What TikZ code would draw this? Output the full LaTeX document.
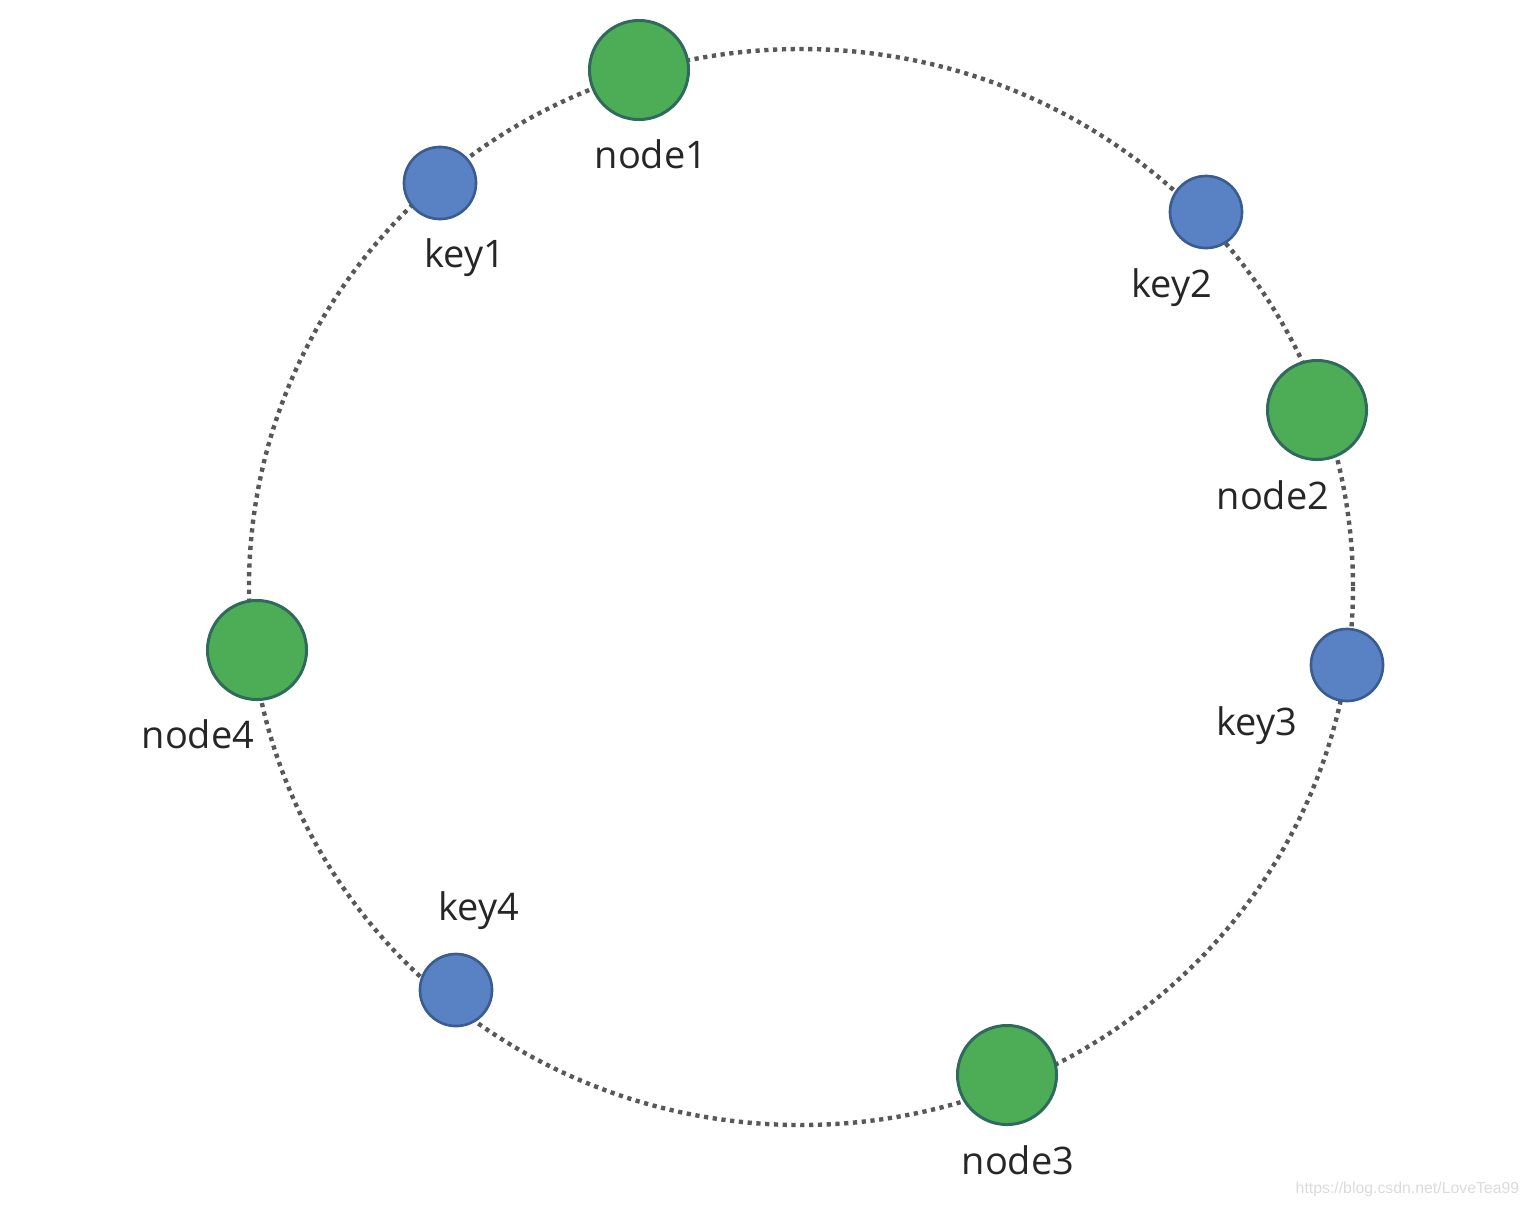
\documentclass[tikz,border=0pt]{standalone}
\usepackage{fontspec}
\setmainfont{Open Sans}
\newfontfamily\markfont{Liberation Sans}
\usetikzlibrary{positioning}
\definecolor{servergreen}{HTML}{4DAD56}
\definecolor{serveredge}{HTML}{2F6A5C}
\definecolor{keyblue}{HTML}{5882C3}
\definecolor{keyedge}{HTML}{3A5C90}
\definecolor{ringgray}{HTML}{585858}

\begin{document}
\begin{tikzpicture}[
x=0.01cm, y=-0.01cm,
font=\fontsize{10.8pt}{13pt}\selectfont,
server/.style={circle,draw=serveredge,line width=0.85pt,fill=servergreen,minimum size=0.99cm,inner sep=0pt},
keynode/.style={circle,draw=keyedge,line width=0.75pt,fill=keyblue,minimum size=0.72cm,inner sep=0pt},
ring/.style={draw=ringgray,line width=1.25pt,dash pattern=on 1.2pt off 1.3pt},
lbl/.style={anchor=base,text=black!85}
]
    % Page
    \useasboundingbox (0,0) rectangle (1530,1208);

    % Draw ring
    \coordinate (centre) at (801,587);
    \draw[ring] (centre) ellipse [x radius=552, y radius=538];

    % Servers and keys
    \node[server] (node1) at (639,70) {};
    \node[server] (node2) at (1317,410) {};
    \node[server] (node3) at (1007,1075) {};
    \node[server] (node4) at (257,650) {};

    \node[keynode] (key1) at (440,183) {};
    \node[keynode] (key2) at (1206,212) {};
    \node[keynode] (key3) at (1347,665) {};
    \node[keynode] (key4) at (456,990) {};

    % Labels
    \node[lbl] (node1 label) at (651,168) {node1};
    \node[lbl] (node2 label) at (1273,509) {node2};
    \node[lbl] (node3 label) at (1018,1174) {node3};
    \node[lbl] (node4 label) at (198,748) {node4};

    \node[lbl] (key1 label) at (465,267) {key1};
    \node[lbl] (key2 label) at (1172,297) {key2};
    \node[lbl] (key3 label) at (1257,735) {key3};
    \node[lbl] (key4 label) at (479,920) {key4};

    % Watermark
    \node[anchor=base west,inner sep=0pt,text=black!14,font=\markfont\fontsize{4.5pt}{5pt}\selectfont] (mark) at (1295,1193) {https://blog.csdn.net/LoveTea99};

\end{tikzpicture}
\end{document}
